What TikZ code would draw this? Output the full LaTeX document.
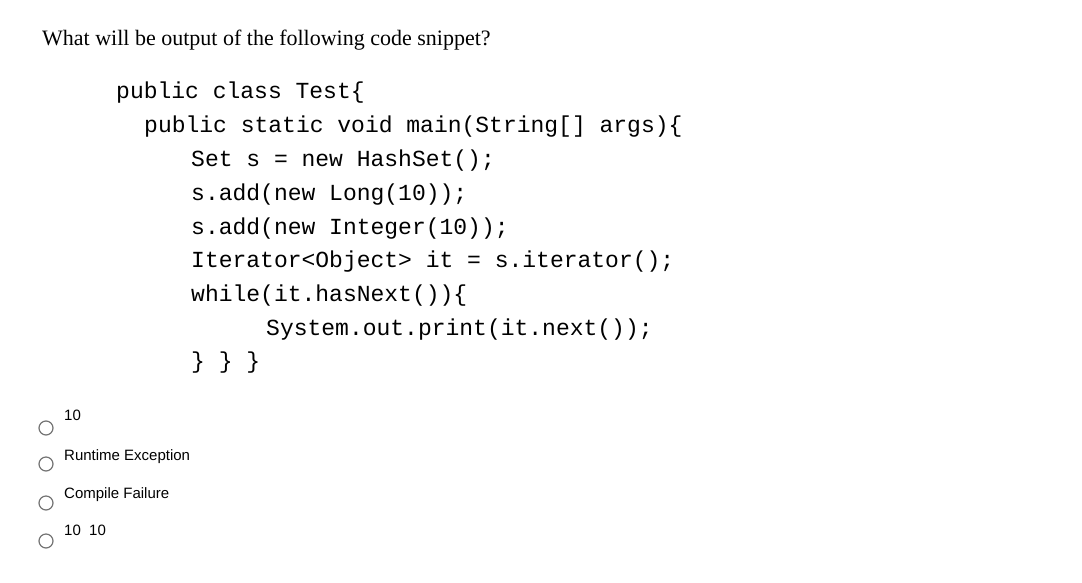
\documentclass[tikz,border=0pt]{standalone}
\usepackage{fontspec}
\setmainfont{Liberation Serif}
\setsansfont{Liberation Sans}
\setmonofont{Liberation Mono}
\definecolor{radio-gray}{gray}{0.45}
\tikzset{
  codeline/.style={anchor=base west, inner sep=0pt, font=\ttfamily\fontsize{23}{23}\selectfont},
  answer/.style={anchor=base west, inner sep=0pt, font=\sffamily\fontsize{15}{15}\selectfont},
  radio/.style={draw=radio-gray, line width=1.2pt}
}
\begin{document}
\begin{tikzpicture}[x=1pt,y=-1pt]
 \useasboundingbox (0,0) rectangle (1082,582);
 % question
 \node[anchor=base west, inner sep=0pt, font=\fontsize{22}{22}\selectfont] (question) at (42,45) {What will be output of the following code snippet?};
 % code
 \node[codeline] (c1) at (116,98) {public class Test\{};
 \node[codeline] (c2) at (144,132) {public static void main(String[] args)\{};
 \node[codeline] (c3) at (191,166) {Set s = new HashSet();};
 \node[codeline] (c4) at (191,200) {s.add(new Long(10));};
 \node[codeline] (c5) at (191,234) {s.add(new Integer(10));};
 \node[codeline] (c6) at (191,267) {Iterator<Object> it = s.iterator();};
 \node[codeline] (c7) at (191,301) {while(it.hasNext())\{};
 \node[codeline] (c8) at (266,335) {System.out.print(it.next());};
 \node[codeline] (c9) at (191,368) {\} \} \}};
 % answers
 \foreach \ry/\ly/\txt [count=\i] in {428/420/10, 464/460/Runtime Exception, 503/498/Compile Failure, 541/535/{10\ \ 10}}{
   \draw[radio] (46,\ry) circle [radius=7];
   \node[answer] (opt\i) at (64,\ly) {\txt};
 }
\end{tikzpicture}
\end{document}
